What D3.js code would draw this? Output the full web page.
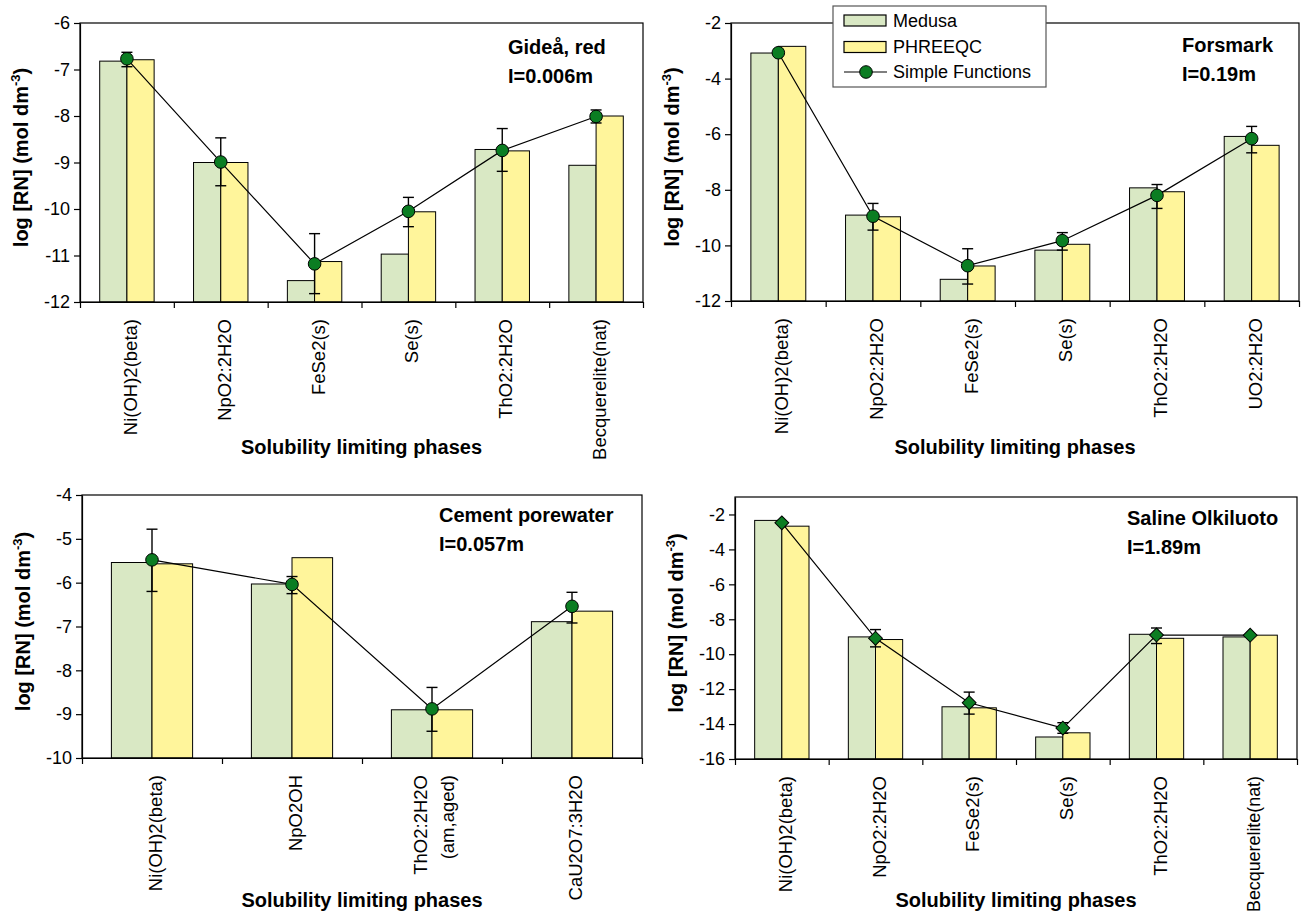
<!DOCTYPE html>
<html>
<head>
<meta charset="utf-8">
<script src="https://cdn.jsdelivr.net/npm/d3@7/dist/d3.min.js"></script>
<style>
	body { margin: 0; background: #fff; }
	svg text { font-family: Arial, "Liberation Sans", sans-serif; fill: #000; }
</style>
</head>
<body>
<svg id="chart" width="1307" height="914"></svg>
<script>
// ---- data (log [RN], mol dm-3) ----

// Gideå, red  I=0.006m
var gideaPhases  = ["Ni(OH)2(beta)", "NpO2:2H2O", "FeSe2(s)", "Se(s)", "ThO2:2H2O", "Becquerelite(nat)"];
var gideaMedusa  = [-6.82, -9.00, -11.54, -10.97, -8.72, -9.06];
var gideaPhreeqc = [-6.79, -9.00, -11.13, -10.06, -8.75, -8.00];
var gideaSimple  = [-6.77, -8.99, -11.18, -10.05, -8.74, -8.01];
var gideaErrHi   = [-6.63, -8.47, -10.53, -9.75, -8.27, -7.87];
var gideaErrLo   = [-6.94, -9.50, -11.82, -10.38, -9.19, -8.15];

// Forsmark  I=0.19m
var forsPhases  = ["Ni(OH)2(beta)", "NpO2:2H2O", "FeSe2(s)", "Se(s)", "ThO2:2H2O", "UO2:2H2O"];
var forsMedusa  = [-3.08, -8.91, -11.22, -10.17, -7.93, -6.08];
var forsPhreeqc = [-2.84, -8.97, -10.74, -9.96, -8.07, -6.40];
var forsSimple  = [-3.07, -8.95, -10.73, -9.83, -8.20, -6.16];
var forsErrHi   = [null, -8.49, -10.12, -9.54, -7.81, -5.72];
var forsErrLo   = [null, -9.45, -11.39, -10.17, -8.67, -6.67];

// Cement porewater  I=0.057m
var cemPhases  = ["Ni(OH)2(beta)", "NpO2OH", ["ThO2:2H2O", "(am,aged)"], "CaU2O7:3H2O"];
var cemMedusa  = [-5.54, -6.03, -8.90, -6.89];
var cemPhreeqc = [-5.57, -5.43, -8.90, -6.65];
var cemSimple  = [-5.48, -6.04, -8.88, -6.54];
var cemErrHi   = [-4.78, -5.86, -8.39, -6.22];
var cemErrLo   = [-6.20, -6.25, -9.39, -6.92];

// Saline Olkiluoto  I=1.89m
var olkPhases  = ["Ni(OH)2(beta)", "NpO2:2H2O", "FeSe2(s)", "Se(s)", "ThO2:2H2O", "Becquerelite(nat)"];
var olkMedusa  = [-2.34, -9.01, -13.01, -14.74, -8.86, -9.01];
var olkPhreeqc = [-2.67, -9.16, -13.07, -14.50, -9.09, -8.91];
var olkSimple  = [-2.48, -9.09, -12.78, -14.23, -8.90, -8.91];
var olkErrHi   = [null, -8.59, -12.17, -13.92, -8.50, null];
var olkErrLo   = [null, -9.58, -13.43, -14.53, -9.39, null];

// y ticks per panel
var gideaTicks = [-12, -11, -10, -9, -8, -7, -6];
var forsTicks  = [-12, -10, -8, -6, -4, -2];
var cemTicks   = [-10, -9, -8, -7, -6, -5, -4];
var olkTicks   = [-16, -14, -12, -10, -8, -6, -4, -2];

var legendNames = ["Medusa", "PHREEQC", "Simple Functions"];

// ---- styles ----
var MEDUSA_FILL = "#d9e8c4";
var PHREEQC_FILL = "#fff59b";
var MARKER_FILL = "#0b7d22";
var PAGE_H = 914;

var panels = [
	{ phases: gideaPhases, medusa: gideaMedusa, phreeqc: gideaPhreeqc, simple: gideaSimple, hi: gideaErrHi, lo: gideaErrLo,
	  ticks: gideaTicks, yDom: [-12, -6], box: { l: 80, r: 643, t: 23, b: 302 }, marker: "circle",
	  title: ["Gideå, red", "I=0.006m"], titleX: 508, titleY: 54, xTitleY: 454 },
	{ phases: forsPhases, medusa: forsMedusa, phreeqc: forsPhreeqc, simple: forsSimple, hi: forsErrHi, lo: forsErrLo,
	  ticks: forsTicks, yDom: [-12, -2], box: { l: 731, r: 1299, t: 23, b: 301 }, marker: "circle",
	  title: ["Forsmark", "I=0.19m"], titleX: 1182, titleY: 52, xTitleY: 454 },
	{ phases: cemPhases, medusa: cemMedusa, phreeqc: cemPhreeqc, simple: cemSimple, hi: cemErrHi, lo: cemErrLo,
	  ticks: cemTicks, yDom: [-10, -4], box: { l: 82, r: 642, t: 495, b: 758 }, marker: "circle",
	  title: ["Cement porewater", "I=0.057m"], titleX: 439, titleY: 522, xTitleY: 907 },
	{ phases: olkPhases, medusa: olkMedusa, phreeqc: olkPhreeqc, simple: olkSimple, hi: olkErrHi, lo: olkErrLo,
	  ticks: olkTicks, yDom: [-16, -1], box: { l: 735, r: 1297, t: 497, b: 759 }, marker: "diamond",
	  title: ["Saline Olkiluoto", "I=1.89m"], titleX: 1127, titleY: 525, xTitleY: 907 }
];

var svg = d3.select("#chart");

/**
 * draws the marker used for the Simple Functions series
 */
function addMarker(sel, kind) {
	if (kind === "diamond") {
		return sel.append("path")
			.attr("d", d3.symbol(d3.symbolSquare, 96)())
			.attr("transform", function (d) { return "translate(" + d.x + "," + d.y + ") rotate(45)"; });
	}
	return sel.append("circle")
		.attr("cx", function (d) { return d.x; })
		.attr("cy", function (d) { return d.y; })
		.attr("r", 6.3);
}

function drawPanel(p) {
	var g = svg.append("g");
	var b = p.box;
	var n = p.phases.length;

	var x = d3.scaleBand().domain(d3.range(n)).range([b.l, b.r]);
	var xEdge = d3.scaleLinear().domain([0, n]).range([b.l, b.r]);
	var y = d3.scaleLinear().domain(p.yDom).range([b.b, b.t]);
	var bw = x.bandwidth() * 0.29;
	var cx = function (i) { return x(i) + x.bandwidth() / 2; };

	// bars
	var bars = g.append("g").attr("stroke", "#000").attr("stroke-width", 1);
	bars.selectAll("rect.medusa").data(p.medusa).enter().append("rect")
		.attr("x", function (d, i) { return cx(i) - bw; })
		.attr("y", function (d) { return y(d); })
		.attr("width", bw)
		.attr("height", function (d) { return b.b - y(d); })
		.attr("fill", MEDUSA_FILL);
	bars.selectAll("rect.phreeqc").data(p.phreeqc).enter().append("rect")
		.attr("x", function (d, i) { return cx(i); })
		.attr("y", function (d) { return y(d); })
		.attr("width", bw)
		.attr("height", function (d) { return b.b - y(d); })
		.attr("fill", PHREEQC_FILL);

	// simple functions line
	var pts = p.simple.map(function (v, i) { return { x: cx(i), y: y(v), hi: p.hi[i], lo: p.lo[i] }; });
	g.append("path")
		.attr("d", d3.line().x(function (d) { return d.x; }).y(function (d) { return d.y; })(pts))
		.attr("fill", "none").attr("stroke", "#000").attr("stroke-width", 1.2);

	// error bars
	var eb = g.append("g").attr("stroke", "#000").attr("stroke-width", 1.4)
		.selectAll("g").data(pts.filter(function (d) { return d.hi !== null; })).enter().append("g");
	eb.append("line")
		.attr("x1", function (d) { return d.x; }).attr("x2", function (d) { return d.x; })
		.attr("y1", function (d) { return y(d.hi); }).attr("y2", function (d) { return y(d.lo); });
	eb.append("line")
		.attr("x1", function (d) { return d.x - 5.5; }).attr("x2", function (d) { return d.x + 5.5; })
		.attr("y1", function (d) { return y(d.hi); }).attr("y2", function (d) { return y(d.hi); });
	eb.append("line")
		.attr("x1", function (d) { return d.x - 5.5; }).attr("x2", function (d) { return d.x + 5.5; })
		.attr("y1", function (d) { return y(d.lo); }).attr("y2", function (d) { return y(d.lo); });

	// markers
	var mk = g.append("g").attr("fill", MARKER_FILL).attr("stroke", "#000").attr("stroke-width", 1)
		.selectAll("g").data(pts).enter().append("g");
	addMarker(mk, p.marker);

	// frame
	g.append("rect")
		.attr("x", b.l).attr("y", b.t).attr("width", b.r - b.l).attr("height", b.b - b.t)
		.attr("fill", "none").attr("stroke", "#000").attr("stroke-width", 1.2);

	// y axis
	var ya = g.append("g").attr("transform", "translate(" + b.l + ",0)")
		.call(d3.axisLeft(y).tickValues(p.ticks).tickSize(6).tickSizeOuter(0).tickPadding(4)
			.tickFormat(function (d) { return String(d); }));
	ya.select(".domain").attr("stroke-width", 1.2);
	ya.selectAll("line").attr("stroke-width", 1.2);
	ya.selectAll("text").attr("font-size", "18px").attr("font-family", null);

	// x axis: ticks on category boundaries
	var xa = g.append("g").attr("transform", "translate(0," + b.b + ")")
		.call(d3.axisBottom(xEdge).tickValues(d3.range(n + 1)).tickSize(6).tickSizeOuter(0).tickFormat(""));
	xa.select(".domain").attr("stroke-width", 1.2);
	xa.selectAll("line").attr("stroke-width", 1.2);

	// category labels (rotated)
	var top = b.b + 17;
	p.phases.forEach(function (lab, i) {
		var t = g.append("text")
			.attr("transform", "translate(" + cx(i) + "," + top + ") rotate(-90)")
			.attr("text-anchor", "end")
			.attr("font-size", "18.5px");
		if (Array.isArray(lab)) {
			t.append("tspan").attr("x", 0).attr("y", -5).text(lab[0]);
			t.append("tspan").attr("x", 0).attr("y", 22).text(lab[1]);
		} else {
			t.attr("y", 10).text(lab);
			// keep long labels inside the page
			var len = t.node().getComputedTextLength();
			if (top + len > PAGE_H - 2) t.attr("font-size", (18.5 * (PAGE_H - 2 - top) / len).toFixed(2) + "px");
		}
	});

	// axis titles
	g.append("text")
		.attr("x", (b.l + b.r) / 2).attr("y", p.xTitleY)
		.attr("text-anchor", "middle").attr("font-size", "20px").attr("font-weight", "bold")
		.text("Solubility limiting phases");

	var yt = g.append("text")
		.attr("transform", "translate(" + (b.l - 52) + "," + ((b.t + b.b) / 2 - 5) + ") rotate(-90)")
		.attr("text-anchor", "middle").attr("font-size", "20px").attr("font-weight", "bold");
	yt.append("tspan").text("log [RN] (mol dm");
	yt.append("tspan").attr("dy", -8).attr("font-size", "13px").text("-3");
	yt.append("tspan").attr("dy", 8).text(")");

	// panel title
	g.append("text").attr("x", p.titleX).attr("y", p.titleY)
		.attr("font-size", "20px").attr("font-weight", "bold").text(p.title[0]);
	g.append("text").attr("x", p.titleX).attr("y", p.titleY + 28.5)
		.attr("font-size", "20px").attr("font-weight", "bold").text(p.title[1]);
}

panels.forEach(drawPanel);

// legend (sits over the Forsmark panel)
var lg = svg.append("g");
lg.append("rect").attr("x", 833).attr("y", 6).attr("width", 213).attr("height", 81)
	.attr("fill", "#fff").attr("stroke", "#555").attr("stroke-width", 1.2);
var rows = lg.selectAll("g.row").data(legendNames).enter().append("g")
	.attr("transform", function (d, i) { return "translate(0," + [20.5, 47, 72][i] + ")"; });
rows.filter(function (d, i) { return i < 2; }).append("rect")
	.attr("x", 844).attr("y", -5.5).attr("width", 42).attr("height", 11)
	.attr("fill", function (d, i) { return i === 0 ? MEDUSA_FILL : PHREEQC_FILL; })
	.attr("stroke", "#000").attr("stroke-width", 1.2);
rows.filter(function (d, i) { return i === 2; }).append("line")
	.attr("x1", 844).attr("x2", 887).attr("y1", 0).attr("y2", 0)
	.attr("stroke", "#000").attr("stroke-width", 1.2);
rows.filter(function (d, i) { return i === 2; }).append("circle")
	.attr("cx", 866).attr("cy", 0).attr("r", 6.3)
	.attr("fill", MARKER_FILL).attr("stroke", "#000");
rows.append("text").attr("x", 893).attr("y", 6.3).attr("font-size", "18px").text(function (d) { return d; });
</script>
</body>
</html>
